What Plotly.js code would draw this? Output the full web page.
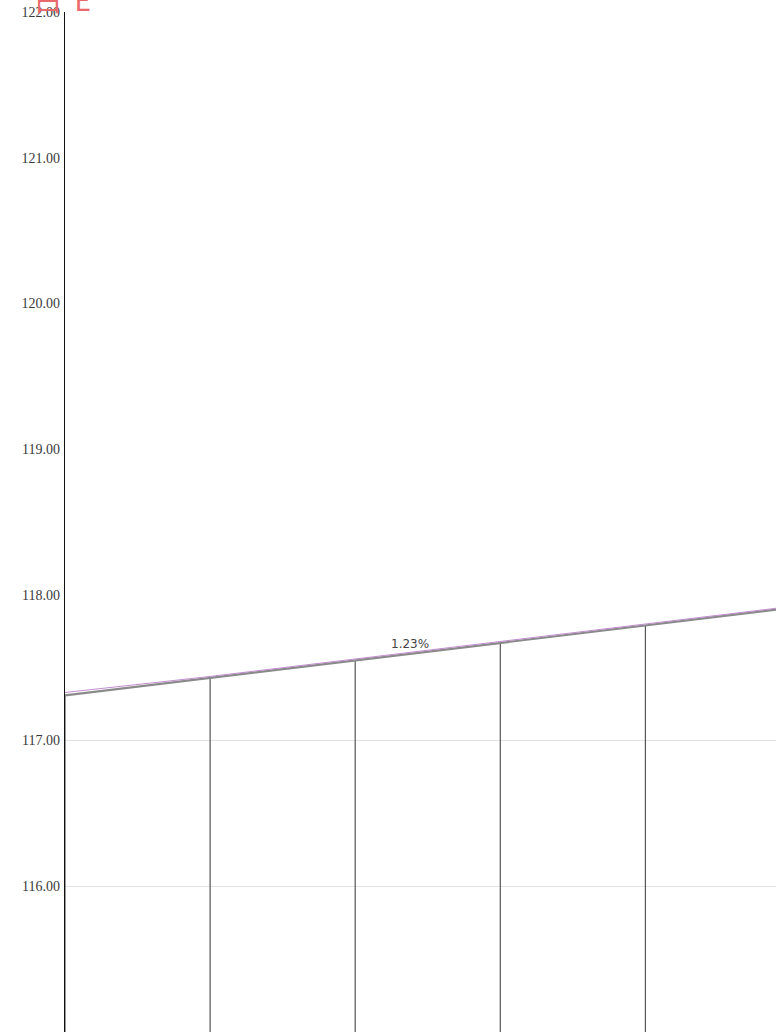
<!DOCTYPE html>
<html>
<head>
<meta charset="utf-8">
<script src="https://cdn.plot.ly/plotly-3.0.1.min.js"></script>
<style>html,body{margin:0;padding:0;background:#fff;}#chart{width:776px;height:1035px;}</style>
</head>
<body>
<div id="chart"></div>
<script>
// Data
const categories = [0, 1, 2, 3, 4, 5];
const seriesGrey = [117.31, 117.43, 117.55, 117.67, 117.79, 117.91];
const seriesPurple = [117.33, 117.44, 117.56, 117.68, 117.80, 117.92];
const yTickValues = [115, 116, 117, 118, 119, 120, 121, 122];
const gridValues = [116, 117];
const axisBase = 115;
const changeLabel = "1.23%";
const titleText = "白  E";

const dropLengths = seriesGrey.map(v => v - axisBase);
const zeros = seriesGrey.map(() => 0);

const traces = [
  {
    x: categories, y: seriesGrey, type: 'scatter', mode: 'lines',
    line: {color: '#8a8a8a', width: 2.2},
    error_y: {type: 'data', symmetric: false, array: zeros, arrayminus: dropLengths,
              color: '#555555', thickness: 1.2, width: 0},
    hoverinfo: 'skip', showlegend: false
  },
  {
    x: categories, y: seriesPurple, type: 'scatter', mode: 'lines',
    line: {color: '#c48cd0', width: 1},
    hoverinfo: 'skip', showlegend: false
  },
  {
    x: categories, y: seriesGrey, type: 'scatter', mode: 'lines', yaxis: 'y2',
    line: {color: 'rgba(0,0,0,0)', width: 0}, hoverinfo: 'skip', showlegend: false
  }
];

const layout = {
  width: 776, height: 1035,
  margin: {l: 65, r: 0, t: 12, b: 3, pad: 0},
  paper_bgcolor: '#ffffff', plot_bgcolor: '#ffffff',
  showlegend: false,
  xaxis: {
    range: [0, 4.9], showgrid: false, zeroline: false, showline: false,
    showticklabels: false, ticks: ''
  },
  yaxis: {
    range: [115, 122], tickvals: yTickValues, tickformat: '.2f',
    showgrid: false, zeroline: false, showline: true, linecolor: '#111111', linewidth: 1.2,
    ticks: '', ticklabelstandoff: 1,
    tickfont: {family: 'Liberation Serif, DejaVu Serif, serif', size: 14, color: '#3a3a3a'}
  },
  yaxis2: {
    overlaying: 'y', range: [115, 122], tickvals: gridValues,
    showgrid: true, gridcolor: '#e2e2e2', gridwidth: 1,
    showticklabels: false, zeroline: false, showline: false, ticks: ''
  },
  annotations: [
    {
      xref: 'x', yref: 'y', x: 2.38, y: (seriesGrey[2] + seriesGrey[3]) / 2 - 0.01,
      text: changeLabel, showarrow: false, yanchor: 'bottom', xanchor: 'center',
      font: {family: 'DejaVu Sans, sans-serif', size: 12, color: '#444444'}
    },
    {
      xref: 'paper', yref: 'paper', x: -0.047, y: 1, xanchor: 'left', yanchor: 'bottom',
      yshift: -9, text: titleText, showarrow: false,
      font: {family: 'Noto Sans CJK SC, sans-serif', size: 28, color: '#e86a6a'}
    }
  ]
};

Plotly.newPlot('chart', traces, layout, {staticPlot: true, displayModeBar: false});
</script>
</body>
</html>
